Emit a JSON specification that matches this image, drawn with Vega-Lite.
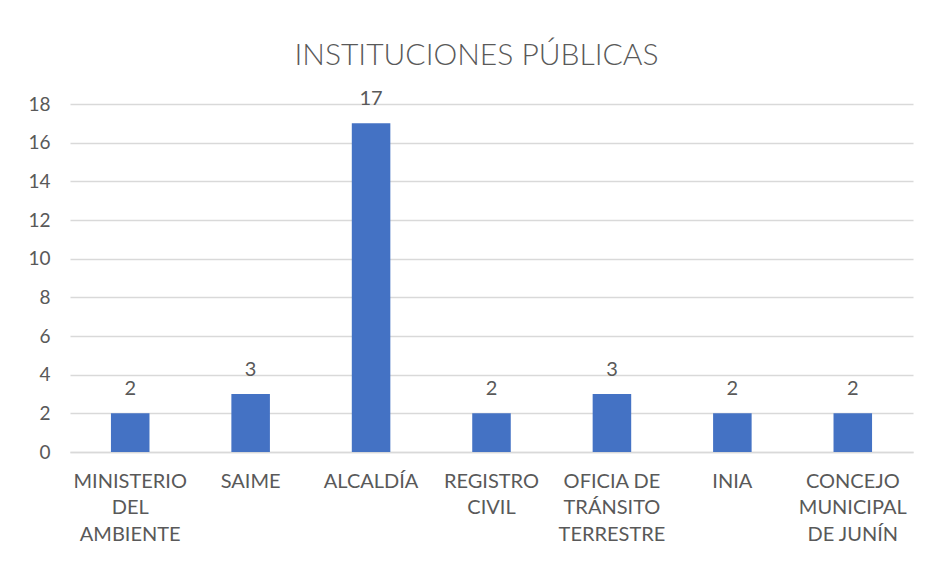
{
  "$schema": "https://vega.github.io/schema/vega-lite/v6.json",
  "autosize": "none",
  "width": 843,
  "height": 348,
  "padding": {"left": 70, "top": 104, "right": 20, "bottom": 113},
  "background": "white",
  "title": {
    "text": "INSTITUCIONES PÚBLICAS",
    "font": "Lato",
    "fontSize": 30,
    "fontWeight": 300,
    "color": "#595959",
    "baseline": "alphabetic",
    "offset": -6,
    "dx": -15
  },
  "data": {
    "values": [
      {"institucion": "MINISTERIO DEL AMBIENTE", "valor": 2},
      {"institucion": "SAIME", "valor": 3},
      {"institucion": "ALCALDÍA", "valor": 17},
      {"institucion": "REGISTRO CIVIL", "valor": 2},
      {"institucion": "OFICIA DE TRÁNSITO TERRESTRE", "valor": 3},
      {"institucion": "INIA", "valor": 2},
      {"institucion": "CONCEJO MUNICIPAL DE JUNÍN", "valor": 2}
    ]
  },
  "encoding": {
    "x": {
      "field": "institucion",
      "type": "nominal",
      "sort": null,
      "scale": {"paddingInner": 0.68, "paddingOuter": 0.34},
      "axis": {
        "title": null,
        "labelAngle": 0,
        "labelFont": "Lato",
        "labelFontSize": 20,
        "labelColor": "#595959",
        "labelPadding": 19,
        "labelLineHeight": 26.5,
        "labelBaseline": "top",
        "ticks": false,
        "domainColor": "#d9d9d9",
        "domainWidth": 1.5,
        "labelExpr": "datum.value == 'MINISTERIO DEL AMBIENTE' ? ['MINISTERIO', 'DEL', 'AMBIENTE'] : datum.value == 'REGISTRO CIVIL' ? ['REGISTRO', 'CIVIL'] : datum.value == 'OFICIA DE TRÁNSITO TERRESTRE' ? ['OFICIA DE', 'TRÁNSITO', 'TERRESTRE'] : datum.value == 'CONCEJO MUNICIPAL DE JUNÍN' ? ['CONCEJO', 'MUNICIPAL', 'DE JUNÍN'] : datum.value"
      }
    },
    "y": {
      "field": "valor",
      "type": "quantitative",
      "scale": {"domain": [0, 18]},
      "axis": {
        "title": null,
        "values": [0, 2, 4, 6, 8, 10, 12, 14, 16, 18],
        "labelFont": "Lato",
        "labelFontSize": 19,
        "labelColor": "#595959",
        "labelPadding": 20,
        "ticks": false,
        "domain": false,
        "gridColor": "#d9d9d9",
        "gridWidth": 1.5
      }
    }
  },
  "layer": [
    {"mark": {"type": "bar", "color": "#4472C4"}},
    {
      "mark": {
        "type": "text",
        "font": "Lato",
        "fontSize": 20,
        "color": "#595959",
        "baseline": "alphabetic",
        "dy": -18
      },
      "encoding": {"text": {"field": "valor", "type": "quantitative"}}
    }
  ],
  "config": {"view": {"stroke": null}}
}
